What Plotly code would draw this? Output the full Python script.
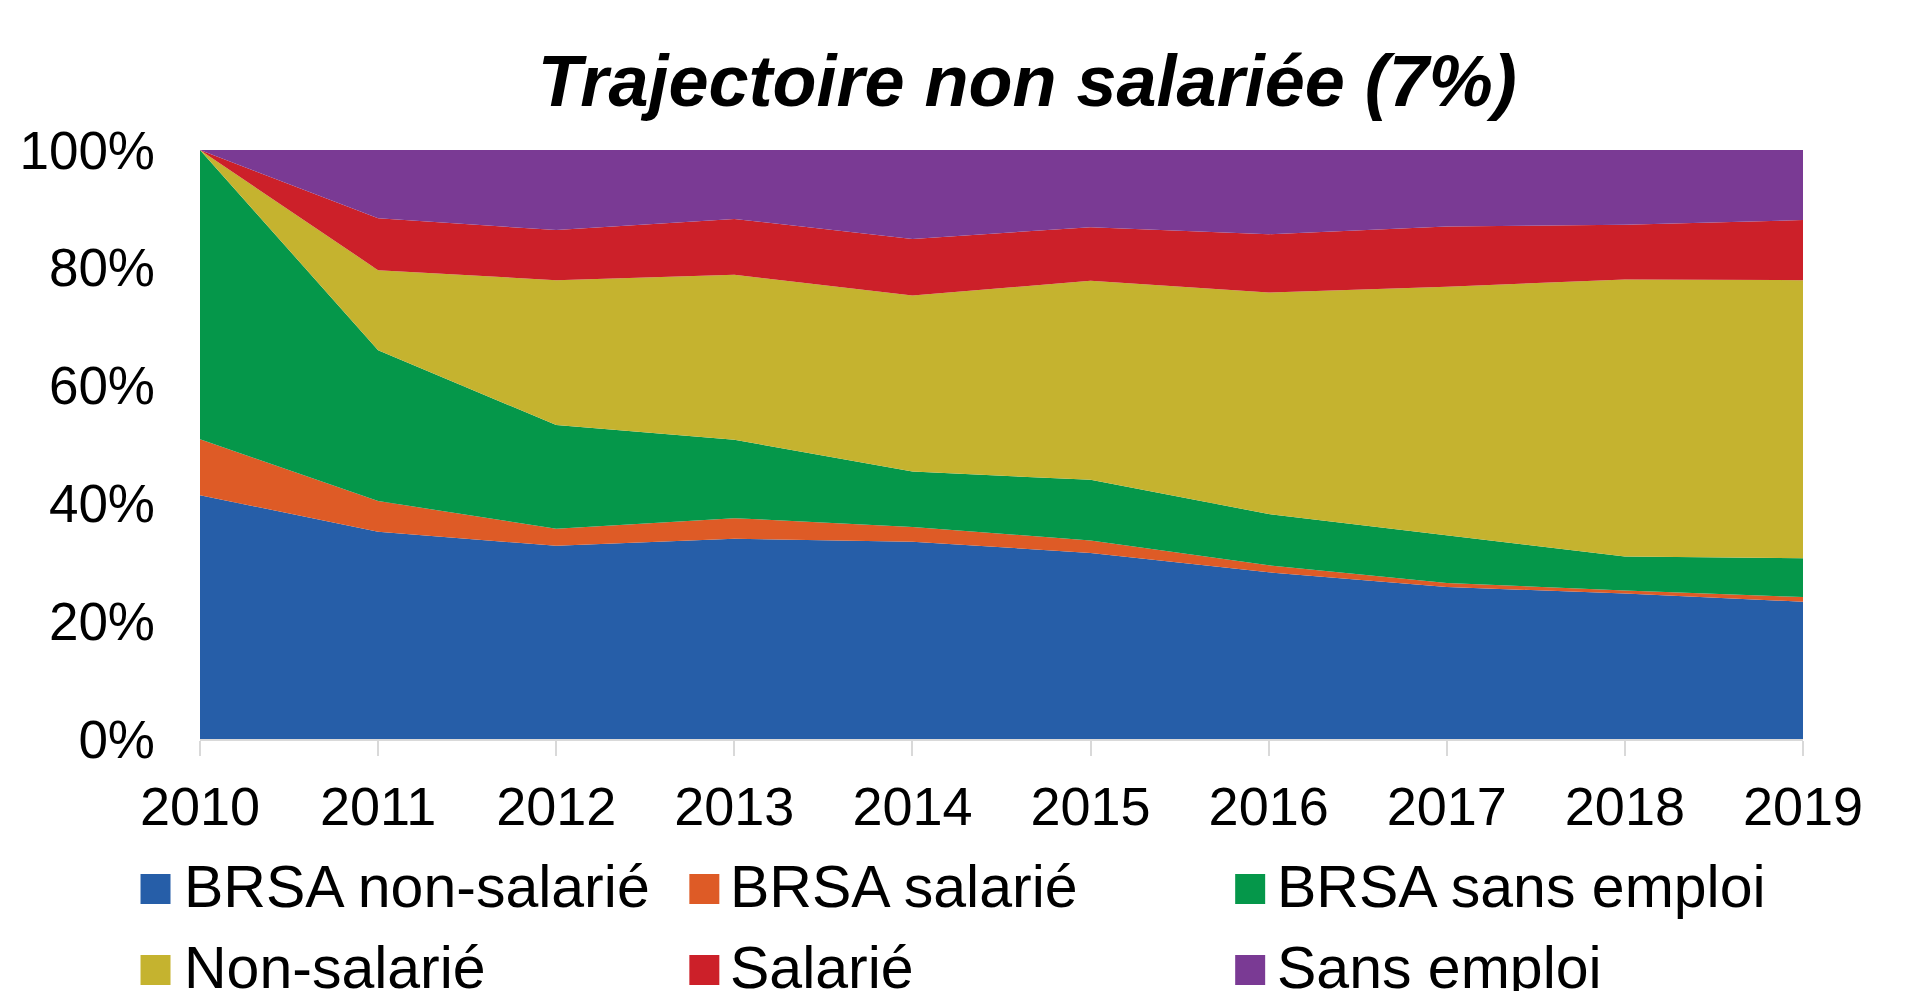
import plotly.graph_objects as go

years = [2010, 2011, 2012, 2013, 2014, 2015, 2016, 2017, 2018, 2019]
brsa_non_salarie = [41.4, 35.2, 32.8, 34.0, 33.5, 31.6, 28.3, 25.8, 24.7, 23.3]
brsa_salarie = [9.5, 5.2, 2.9, 3.5, 2.5, 2.1, 1.2, 0.7, 0.5, 0.8]
brsa_sans_emploi = [49.1, 25.6, 17.6, 13.3, 9.4, 10.3, 8.7, 8.1, 5.8, 6.6]
non_salarie = [0.0, 13.6, 24.6, 28.0, 29.9, 33.8, 37.6, 42.2, 47.0, 47.2]
salarie = [0.0, 8.8, 8.5, 9.5, 9.6, 9.1, 9.9, 10.2, 9.3, 10.2]
sans_emploi = [0.0, 11.6, 13.6, 11.7, 15.1, 13.1, 14.3, 13.0, 12.7, 11.9]

series_names = ["BRSA non-salarié", "BRSA salarié", "BRSA sans emploi",
                "Non-salarié", "Salarié", "Sans emploi"]
series_values = [brsa_non_salarie, brsa_salarie, brsa_sans_emploi,
                 non_salarie, salarie, sans_emploi]
colors = ["#265EA8", "#DE5B26", "#05974A", "#C5B32F", "#CC2029", "#7A3A94"]

OFF = 8  # page body margin
W, H = 1931 - OFF, 991 - OFF
L, R, T, B = 199.5 - OFF, 1803 - OFF, 150 - OFF, 739 - OFF
FONT = "Liberation Sans, Arial, sans-serif"

fig = go.Figure()
for name, vals, col in zip(series_names, series_values, colors):
    fig.add_trace(go.Scatter(
        x=years, y=vals, name=name, mode="lines",
        stackgroup="one", line=dict(width=0, color=col),
        fillcolor=col, showlegend=False,
    ))


def px_x(px):
    return (px - OFF - L) / (R - L)


def px_y(py):
    return (B - (py - OFF)) / (B - T)


# custom legend (3 columns x 2 rows), page pixel positions
col_swatch = [140, 689, 1235]
col_text = [181, 728, 1275]
row_top = [874, 955]
for i, (name, col) in enumerate(zip(series_names, colors)):
    r, c = divmod(i, 3)
    fig.add_shape(type="rect", xref="paper", yref="paper",
                  x0=px_x(col_swatch[c]), x1=px_x(col_swatch[c] + 30),
                  y0=px_y(row_top[r]), y1=px_y(row_top[r] + 30),
                  fillcolor=col, line=dict(width=0))
    fig.add_annotation(text=name, xref="paper", yref="paper",
                       x=px_x(col_text[c]), y=px_y(row_top[r] + 13),
                       xanchor="left", yanchor="middle", showarrow=False,
                       font=dict(family=FONT, size=59, color="#000000"))

fig.update_layout(
    width=W, height=H,
    margin=dict(l=L, r=W - R, t=T, b=H - B, pad=0),
    paper_bgcolor="white", plot_bgcolor="white",
    font=dict(family=FONT, color="#000000"),
    title=dict(text="Trajectoire non salariée (7%)",
               font=dict(family=FONT, size=72, color="#000000",
                         weight="bold", style="italic"),
               xref="paper", x=px_x(1027), xanchor="center",
               yref="container", y=1 - (81 - OFF) / H, yanchor="middle"),
    xaxis=dict(range=[2010, 2019], tickmode="array", tickvals=years,
               ticktext=[str(y) for y in years],
               showgrid=False, zeroline=False,
               showline=True, linecolor="#D9D9D9", linewidth=2,
               ticks="outside", ticklen=15, tickwidth=2, tickcolor="#D9D9D9",
               tickfont=dict(family=FONT, size=54, color="#000000"),
               ticklabelstandoff=4),
    yaxis=dict(range=[0, 100], tickmode="array",
               tickvals=[0, 20, 40, 60, 80, 100],
               ticktext=["0%", "20%", "40%", "60%", "80%", "100%"],
               showgrid=True, gridcolor="#D9D9D9", gridwidth=2,
               zeroline=False, showline=False, ticks="",
               tickfont=dict(family=FONT, size=53, color="#000000"),
               ticklabelstandoff=44),
)

fig.write_html("out.html")
